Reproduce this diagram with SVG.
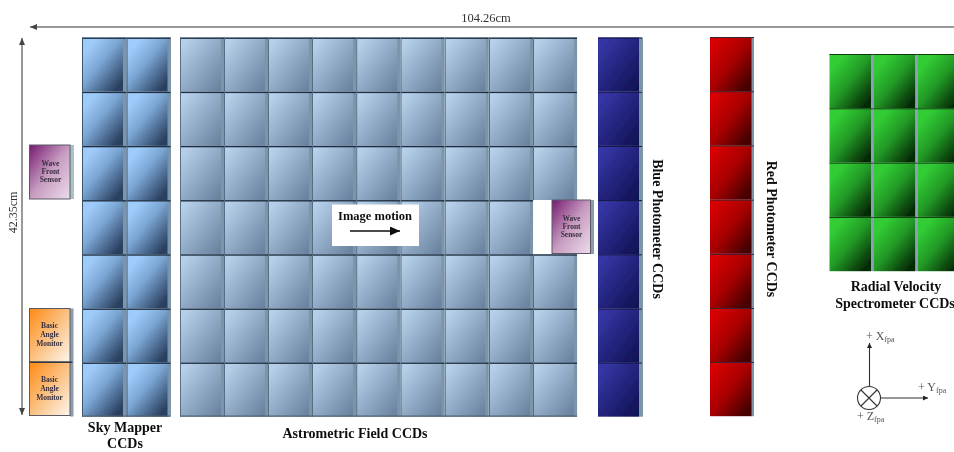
<svg xmlns="http://www.w3.org/2000/svg" width="954" height="452" viewBox="0 0 954 452">
<style>
text{font-family:"Liberation Serif","Times New Roman",serif;fill:#111;text-anchor:middle}
.b{font-weight:700;font-size:14px}
.im{font-weight:700;font-size:12.5px}
.s{font-weight:700;font-size:7.500px;fill:#3a3040}
.a{font-size:12.500px;fill:#333}
.f{font-size:12px;fill:#555;text-anchor:start}
.sub{font-size:8px;fill:#555}
.ln{stroke:#777;stroke-width:1.500;fill:none}
.ax{stroke:#333;stroke-width:1.100;fill:none}
.edge{fill:#7d95a8}
.top{fill:#1f2f40}
.bx{stroke:#5a5a66;stroke-width:1}
</style>
<defs>
<filter id="soft" x="0" y="0" width="100%" height="100%"><feGaussianBlur stdDeviation="0.45"/></filter>
<linearGradient id="gs" x1="0.2" y1="0.15" x2="0.9" y2="0.9"><stop offset="0" stop-color="#9fcbfb"/><stop offset="0.4" stop-color="#7ba6d4"/><stop offset="1" stop-color="#2a4060"/></linearGradient>
<linearGradient id="ga" x1="0.1" y1="0.1" x2="0.95" y2="0.95"><stop offset="0" stop-color="#b6d0ea"/><stop offset="1" stop-color="#6a83a0"/></linearGradient>
<linearGradient id="gb" x1="0.1" y1="0.1" x2="0.95" y2="0.95"><stop offset="0" stop-color="#3636a6"/><stop offset="1" stop-color="#101254"/></linearGradient>
<linearGradient id="gr" x1="0.1" y1="0.1" x2="0.9" y2="0.9"><stop offset="0" stop-color="#d80000"/><stop offset="0.5" stop-color="#a80000"/><stop offset="1" stop-color="#460000"/></linearGradient>
<linearGradient id="gg" x1="0.2" y1="0.15" x2="0.9" y2="0.9"><stop offset="0" stop-color="#32cc34"/><stop offset="0.45" stop-color="#229a26"/><stop offset="1" stop-color="#052c06"/></linearGradient>
<linearGradient id="gw" x1="0" y1="0" x2="1" y2="1"><stop offset="0" stop-color="#761a70"/><stop offset="0.5" stop-color="#c79cc0"/><stop offset="1" stop-color="#ecdcec"/></linearGradient>
<linearGradient id="gm" x1="0" y1="0" x2="1" y2="1"><stop offset="0" stop-color="#ff8a12"/><stop offset="0.55" stop-color="#fbc68c"/><stop offset="1" stop-color="#fdf6ee"/></linearGradient>
<g id="cs"><rect x="40.500" width="4" height="54.200" class="edge"/><rect width="41" height="54.200" fill="url(#gs)"/><rect width="44" height="1.400" class="top"/><rect width="1" height="54.200" fill="#3d5670"/></g>
<g id="ca"><rect x="40.500" width="3.600" height="54.200" class="edge"/><rect width="41" height="54.200" fill="url(#ga)"/><rect width="44" height="1.400" class="top"/><rect width="1" height="54.200" fill="#566d84"/></g>
<g id="cb"><rect x="41" width="4" height="54.200" class="edge"/><rect width="41" height="54.200" fill="url(#gb)"/><rect width="44" height="1" fill="#10123f"/></g>
<g id="cr"><rect x="41" width="3" height="54.200" class="edge"/><rect width="41.500" height="54.200" fill="url(#gr)"/><rect width="44" height="1" fill="#3b2030"/></g>
<g id="cg"><rect x="41.500" width="3" height="54.300" fill="#8ba0b6"/><rect width="41.500" height="54.300" fill="url(#gg)"/><rect width="44" height="1" fill="#0a3a0c"/></g>
<marker id="ah" markerWidth="8" markerHeight="8" refX="7" refY="3" orient="auto-start-reverse" markerUnits="userSpaceOnUse"><path d="M0 0L7 3L0 6z" fill="#444"/></marker>
<marker id="ahk" markerWidth="11" markerHeight="10" refX="10" refY="4.500" orient="auto" markerUnits="userSpaceOnUse"><path d="M0 0L10 4.500L0 9z" fill="#111"/></marker>
<marker id="ahs" markerWidth="6" markerHeight="6" refX="5" refY="2.500" orient="auto" markerUnits="userSpaceOnUse"><path d="M0 0L5 2.500L0 5z" fill="#222"/></marker>
</defs>
<rect width="954" height="452" fill="#fff"/>
<g filter="url(#soft)">
<g id="sky-mapper-ccds">
<use href="#cs" x="82" y="37.500"/><use href="#cs" x="126.500" y="37.500"/>
<use href="#cs" x="82" y="91.700"/><use href="#cs" x="126.500" y="91.700"/>
<use href="#cs" x="82" y="145.900"/><use href="#cs" x="126.500" y="145.900"/>
<use href="#cs" x="82" y="200.100"/><use href="#cs" x="126.500" y="200.100"/>
<use href="#cs" x="82" y="254.300"/><use href="#cs" x="126.500" y="254.300"/>
<use href="#cs" x="82" y="308.500"/><use href="#cs" x="126.500" y="308.500"/>
<use href="#cs" x="82" y="362.500"/><use href="#cs" x="126.500" y="362.500"/>
<rect x="82" y="415.500" width="88" height="1.200" fill="#51606e"/>
<text class="b" x="125" y="432">Sky Mapper</text>
<text class="b" x="125" y="448">CCDs</text>
</g>
<g id="astrometric-field-ccds">
<use href="#ca" x="180" y="37.500"/><use href="#ca" x="224" y="37.500"/><use href="#ca" x="268" y="37.500"/><use href="#ca" x="312" y="37.500"/><use href="#ca" x="356.200" y="37.500"/><use href="#ca" x="400.500" y="37.500"/><use href="#ca" x="444.700" y="37.500"/><use href="#ca" x="489" y="37.500"/><use href="#ca" x="533" y="37.500"/>
<use href="#ca" x="180" y="91.700"/><use href="#ca" x="224" y="91.700"/><use href="#ca" x="268" y="91.700"/><use href="#ca" x="312" y="91.700"/><use href="#ca" x="356.200" y="91.700"/><use href="#ca" x="400.500" y="91.700"/><use href="#ca" x="444.700" y="91.700"/><use href="#ca" x="489" y="91.700"/><use href="#ca" x="533" y="91.700"/>
<use href="#ca" x="180" y="145.900"/><use href="#ca" x="224" y="145.900"/><use href="#ca" x="268" y="145.900"/><use href="#ca" x="312" y="145.900"/><use href="#ca" x="356.200" y="145.900"/><use href="#ca" x="400.500" y="145.900"/><use href="#ca" x="444.700" y="145.900"/><use href="#ca" x="489" y="145.900"/><use href="#ca" x="533" y="145.900"/>
<use href="#ca" x="180" y="200.100"/><use href="#ca" x="224" y="200.100"/><use href="#ca" x="268" y="200.100"/><use href="#ca" x="312" y="200.100"/><use href="#ca" x="356.200" y="200.100"/><use href="#ca" x="400.500" y="200.100"/><use href="#ca" x="444.700" y="200.100"/><use href="#ca" x="489" y="200.100"/>
<use href="#ca" x="180" y="254.300"/><use href="#ca" x="224" y="254.300"/><use href="#ca" x="268" y="254.300"/><use href="#ca" x="312" y="254.300"/><use href="#ca" x="356.200" y="254.300"/><use href="#ca" x="400.500" y="254.300"/><use href="#ca" x="444.700" y="254.300"/><use href="#ca" x="489" y="254.300"/><use href="#ca" x="533" y="254.300"/>
<use href="#ca" x="180" y="308.500"/><use href="#ca" x="224" y="308.500"/><use href="#ca" x="268" y="308.500"/><use href="#ca" x="312" y="308.500"/><use href="#ca" x="356.200" y="308.500"/><use href="#ca" x="400.500" y="308.500"/><use href="#ca" x="444.700" y="308.500"/><use href="#ca" x="489" y="308.500"/><use href="#ca" x="533" y="308.500"/>
<use href="#ca" x="180" y="362.500"/><use href="#ca" x="224" y="362.500"/><use href="#ca" x="268" y="362.500"/><use href="#ca" x="312" y="362.500"/><use href="#ca" x="356.200" y="362.500"/><use href="#ca" x="400.500" y="362.500"/><use href="#ca" x="444.700" y="362.500"/><use href="#ca" x="489" y="362.500"/><use href="#ca" x="533" y="362.500"/>
<rect x="180" y="415.500" width="397" height="1.200" fill="#51606e"/>
<text class="b" x="355" y="438">Astrometric Field CCDs</text>
</g>
<g id="blue-photometer-ccds">
<use href="#cb" x="598" y="37.500"/><use href="#cb" x="598" y="91.700"/><use href="#cb" x="598" y="145.900"/><use href="#cb" x="598" y="200.100"/><use href="#cb" x="598" y="254.300"/><use href="#cb" x="598" y="308.500"/><use href="#cb" x="598" y="362.500"/>
<text class="b" transform="translate(653 229) rotate(90)">Blue Photometer CCDs</text>
</g>
<g id="red-photometer-ccds">
<use href="#cr" x="710" y="37"/><use href="#cr" x="710" y="91.200"/><use href="#cr" x="710" y="145.400"/><use href="#cr" x="710" y="199.600"/><use href="#cr" x="710" y="253.800"/><use href="#cr" x="710" y="308"/><use href="#cr" x="710" y="362"/>
<text class="b" transform="translate(767 229) rotate(90)">Red Photometer CCDs</text>
</g>
<g id="radial-velocity-spectrometer-ccds">
<use href="#cg" x="829.500" y="54"/><use href="#cg" x="873.800" y="54"/><use href="#cg" x="918" y="54"/>
<use href="#cg" x="829.500" y="108.300"/><use href="#cg" x="873.800" y="108.300"/><use href="#cg" x="918" y="108.300"/>
<use href="#cg" x="829.500" y="162.600"/><use href="#cg" x="873.800" y="162.600"/><use href="#cg" x="918" y="162.600"/>
<use href="#cg" x="829.500" y="216.900"/><use href="#cg" x="873.800" y="216.900"/><use href="#cg" x="918" y="216.900"/>
<text class="b" x="896" y="291">Radial Velocity</text>
<text class="b" x="895" y="308">Spectrometer CCDs</text>
</g>
<g id="wave-front-sensor-left">
<rect x="70" y="145" width="4" height="54" fill="#a8c2c4"/>
<rect class="bx" x="29.500" y="145" width="40.500" height="54" fill="url(#gw)"/>
<text class="s" x="50.500" y="166">Wave</text><text class="s" x="50.500" y="174">Front</text><text class="s" x="50.500" y="182">Sensor</text>
</g>
<g id="wave-front-sensor-right">
<rect x="533.500" y="200" width="19" height="54" fill="#fff"/>
<rect x="590" y="200" width="4" height="54" fill="#8c9cac"/>
<rect class="bx" x="552" y="200" width="38.500" height="53.500" fill="url(#gw)"/>
<text class="s" x="571.500" y="221">Wave</text><text class="s" x="571.500" y="229">Front</text><text class="s" x="571.500" y="237">Sensor</text>
</g>
<g id="basic-angle-monitor-1">
<rect x="70" y="308.500" width="3.500" height="54" fill="#8c9cac"/>
<rect class="bx" x="29.500" y="308.500" width="40.500" height="53.500" fill="url(#gm)"/>
<text class="s" x="49.500" y="328">Basic</text><text class="s" x="49.500" y="337">Angle</text><text class="s" x="49.500" y="346">Monitor</text>
</g>
<g id="basic-angle-monitor-2">
<rect x="70" y="362.500" width="3.500" height="54" fill="#8c9cac"/>
<rect class="bx" x="29.500" y="362.500" width="40.500" height="53" fill="url(#gm)"/>
<rect x="29.500" y="361.500" width="43" height="1.400" fill="#2f3640"/>
<text class="s" x="49.500" y="382">Basic</text><text class="s" x="49.500" y="391">Angle</text><text class="s" x="49.500" y="400">Monitor</text>
</g>
<g id="image-motion">
<rect x="332" y="204.500" width="87" height="41.500" fill="#fff"/>
<text class="im" x="375" y="220">Image motion</text>
</g>
<g id="connectors">
<path class="ln" d="M30 27H954" marker-start="url(#ah)"/>
<path class="ln" d="M22 38V415" marker-start="url(#ah)" marker-end="url(#ah)"/>
<path d="M350 231H400" stroke="#111" stroke-width="1.600" fill="none" marker-end="url(#ahk)"/>
<path class="ax" d="M869.500 386V343" marker-end="url(#ahs)"/>
<path class="ax" d="M881 398H928" marker-end="url(#ahs)"/>
<circle class="ax" cx="869" cy="398" r="11.500" stroke-width="1.300"/>
<path class="ax" d="M861 390L877 406M877 390L861 406"/>
</g>
<g id="labels">
<text class="a" x="486" y="22">104.26cm</text>
<text class="a" transform="translate(17 212.500) rotate(-90)" style="font-size:12px">42.35cm</text>
<text class="f" x="866" y="340">+ X<tspan class="sub" dy="2">fpa</tspan></text>
<text class="f" x="918" y="391">+ Y<tspan class="sub" dy="2">fpa</tspan></text>
<text class="f" x="857" y="420">+ Z<tspan class="sub" dy="2">fpa</tspan></text>
</g>
</g>
</svg>
